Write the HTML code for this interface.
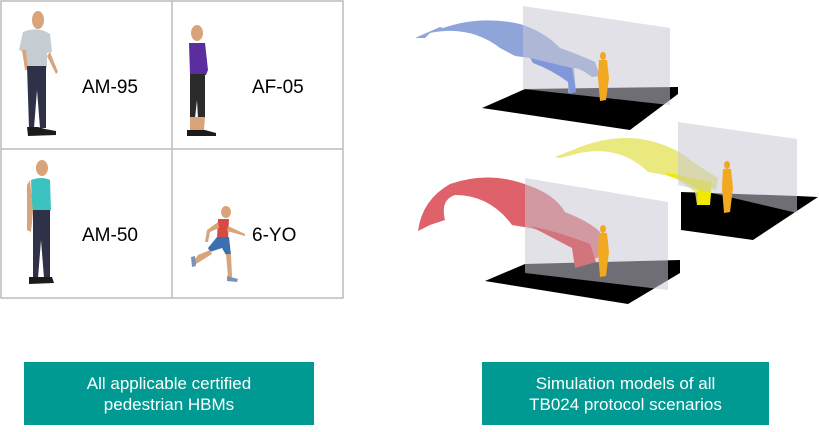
<!DOCTYPE html>
<html><head><style>
body{margin:0;width:819px;height:432px;background:#fff;overflow:hidden;position:relative;font-family:"Liberation Sans",sans-serif}
.lbl{position:absolute;font-size:19px;color:#000}
.box{position:absolute;background:#009a93;color:#fff;font-size:17px;line-height:21px;text-align:center;display:flex;align-items:center;justify-content:center}
</style></head><body>
<svg width="819" height="432" style="position:absolute;left:0;top:0">
<rect x="1" y="1" width="342" height="297" fill="none" stroke="#bcbcbc" stroke-width="1.5"/>
<line x1="172" y1="1" x2="172" y2="298" stroke="#bcbcbc" stroke-width="1.5"/>
<line x1="1" y1="149" x2="343" y2="149" stroke="#bcbcbc" stroke-width="1.5"/>
<g>
<ellipse cx="38" cy="20" rx="6" ry="9" fill="#d9a47a"/>
<path d="M23 32 Q38 26 50 34 L52 52 L47 53 L47 68 L28 68 L24 52 L19 50 Z" fill="#c5cdd2"/>
<path d="M50 52 L58 72 L56 74 L47 56Z" fill="#d9a47a"/>
<path d="M22 50 L25 70 L28 70 L26 50Z" fill="#d9a47a"/>
<path d="M27 66 L46 66 L46 128 L40 128 L37 90 L34 128 L29 128 Z" fill="#2e3148"/>
<path d="M27 127 L38 127 L45 129 L56 131 L56 135 L28 136 Z" fill="#1b1b1b"/>
</g>
<g>
<ellipse cx="197" cy="33" rx="6" ry="8" fill="#d9a47a"/>
<path d="M189 43 L205 43 L208 70 L206 75 L190 75 Z" fill="#5b2d9e"/>
<path d="M190 74 L205 74 L205 118 L198 118 L197 100 L195 118 L190 118Z" fill="#2b2b2b"/>
<path d="M190 117 L205 117 L204 130 L190 130Z" fill="#d9a47a"/>
<path d="M187 130 L205 130 L216 133 L216 136 L187 136Z" fill="#1b1b1b"/>
</g>
<g>
<ellipse cx="42" cy="168" rx="6" ry="8" fill="#d9a47a"/>
<path d="M31 180 Q42 176 50 180 L51 210 L44 216 L32 212 Z" fill="#3cc3c1"/>
<path d="M27 185 L30 180 L33 212 L31 232 L27 230 Z" fill="#d9a47a"/>
<path d="M33 210 L50 210 L50 278 L44 278 L41 240 L38 278 L33 278 Z" fill="#2e3148"/>
<path d="M29 277 L52 277 L54 283 L29 284Z" fill="#1b1b1b"/>
</g>
<g>
<ellipse cx="226" cy="212" rx="5" ry="6" fill="#d9a47a"/>
<path d="M218 219 L229 219 L228 238 L217 238Z" fill="#d84a43"/>
<path d="M218 222 L207 230 L205 242 L208 242 L210 232 L219 228Z" fill="#d9a47a"/>
<path d="M228 226 L245 234 L245 236 L227 231Z" fill="#d9a47a"/>
<path d="M217 237 L229 237 L231 255 L226 255 L222 248 L210 252 L208 248Z" fill="#3b6fb0"/>
<path d="M210 250 L198 255 L193 262 L196 264 L212 254Z" fill="#d9a47a"/>
<path d="M226 254 L231 254 L232 277 L228 277Z" fill="#d9a47a"/>
<path d="M227 276 L238 279 L237 282 L227 281Z" fill="#7d90b8"/>
<path d="M191 257 L195 256 L196 266 L192 267Z" fill="#7d90b8"/>
</g>

<polygon points="482,108 525,89 678,87 678,94 630,130" fill="#000"/>
<path d="M415,38 L440,27 L443,28 Q480,15 520,24 Q545,32 560,48 Q580,55 595,62 L600,76 L592,77 Q580,68 574,68 L576,92 L568,93 L568,80 Q540,62 530,58 L515,56 L500,48 Q470,25 430,33 L425,38Z" fill="#7b95d4" opacity="0.85"/>
<path d="M530,58 Q555,64 572,68 L576,92 L570,94 L568,82 Q552,70 533,63Z" fill="#2a5ce0"/>
<polygon points="523,6 670,28 670,105 523,89" fill="#c9c9d3" opacity="0.55"/>
<g fill="#f2a81f"><ellipse cx="603" cy="56" rx="3" ry="4"/><path d="M599,60 L607,60 L609,78 L606,100 L600,101 L598,78Z"/></g>

<polygon points="681,192 797,196 818,197 753,240 681,230" fill="#000"/>
<path d="M555,157 L580,147 Q620,132 655,142 Q680,150 690,160 Q705,170 718,178 L716,190 L705,185 L705,200 L697,205 L695,192 Q680,180 670,176 L648,172 Q620,145 580,153 L560,158Z" fill="#e6e56a" opacity="0.85"/>
<path d="M665,172 Q690,178 712,182 L710,205 L697,205 L698,190 Q685,180 668,176Z" fill="#f0ea00"/>
<polygon points="678,122 797,139 797,213 678,185" fill="#c9c9d3" opacity="0.55"/>
<g fill="#f2a81f"><ellipse cx="727" cy="165" rx="3" ry="4"/><path d="M723,169 L731,169 L733,188 L730,212 L724,213 L722,188Z"/></g>

<polygon points="485,281 525,264 680,260 680,273 628,304" fill="#000"/>
<path d="M418,231 Q422,200 450,184 Q490,170 530,186 Q555,195 565,212 Q590,222 600,232 L600,256 L590,262 L575,266 L572,246 Q550,232 530,228 L512,225 Q490,195 455,195 Q440,200 445,220 L430,225Z" fill="#d9454f" opacity="0.85"/>
<path d="M530,226 Q560,232 590,244 L596,262 L575,268 L572,248Z" fill="#e00d12"/>
<polygon points="525,178 668,202 668,290 525,273" fill="#c9c9d3" opacity="0.55"/>
<g fill="#f2a81f"><ellipse cx="603" cy="229" rx="3" ry="4"/><path d="M599,233 L607,233 L609,252 L606,276 L600,277 L598,252Z"/></g>
</svg>
<div class="lbl" style="left:82px;top:77px">AM-95</div>
<div class="lbl" style="left:252px;top:77px">AF-05</div>
<div class="lbl" style="left:82px;top:225px">AM-50</div>
<div class="lbl" style="left:252px;top:225px">6-YO</div>
<div class="box" style="left:24px;top:362px;width:290px;height:63px">All applicable certified<br>pedestrian HBMs</div>
<div class="box" style="left:482px;top:362px;width:287px;height:63px">Simulation models of all<br>TB024 protocol scenarios</div>
</body></html>
